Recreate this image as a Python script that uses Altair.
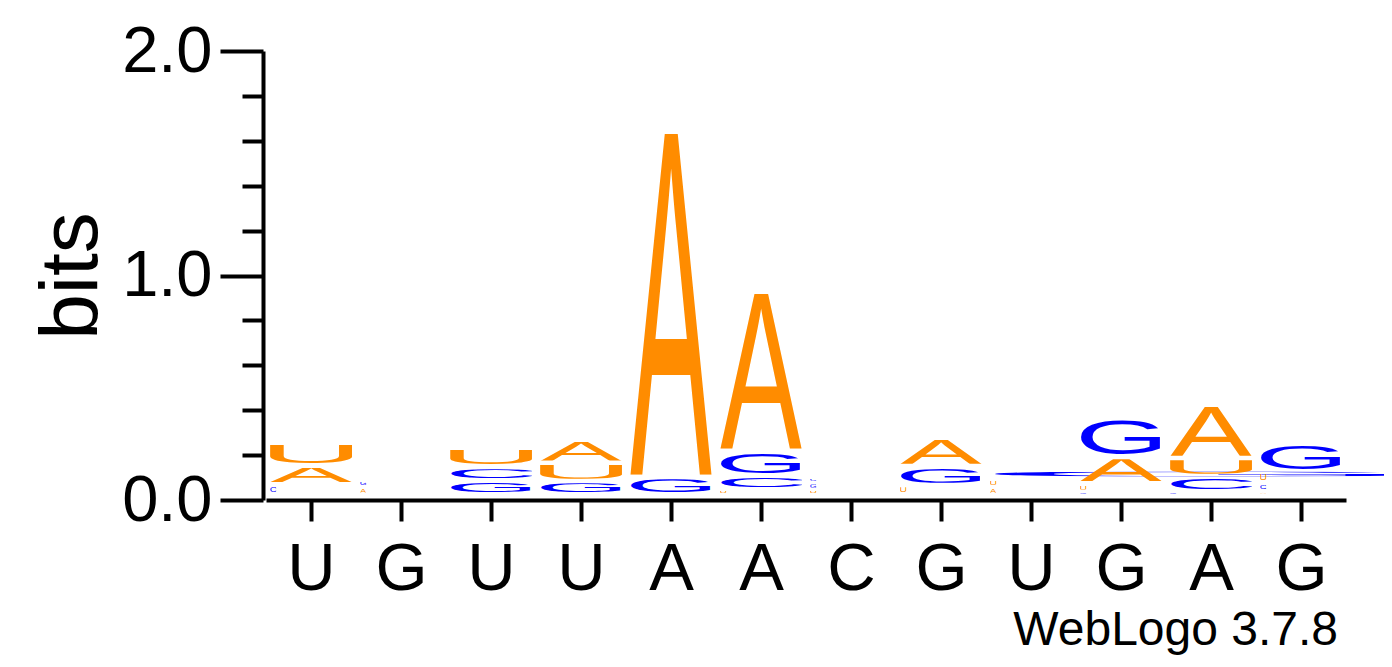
import base64
import pandas as pd
import altair as alt

positions = list(range(1, 13))
consensus = ["U", "G", "U", "U", "A", "A", "C", "G", "U", "G", "A", "G"]

# letters of each stack, from bottom to top, and their heights in bits
stack_letters = [
    ["C", "A", "U"],
    ["A", "G"],
    ["G", "C", "U"],
    ["G", "U", "A"],
    ["G", "A"],
    ["U", "C", "G", "A"],
    ["U", "G", "C"],
    ["U", "G", "A"],
    ["A", "U", "G"],
    ["C", "U", "A", "G"],
    ["G", "C", "U", "A"],
    ["A", "C", "U", "G"],
]
stack_bits = [
    [0.045, 0.085, 0.101],
    [0.034, 0.031],
    [0.063, 0.060, 0.086],
    [0.060, 0.081, 0.104],
    [0.078, 1.539],
    [0.023, 0.060, 0.108, 0.712],
    [0.023, 0.030, 0.022],
    [0.042, 0.085, 0.126],
    [0.033, 0.037, 0.043],
    [0.012, 0.036, 0.119, 0.175],
    [0.015, 0.067, 0.081, 0.237],
    [0.015, 0.037, 0.049, 0.125],
]
# the G at position 9 is drawn smeared out far to the right in the original
smeared = {(9, "G"): 13.2}

letter_colors = {"A": "#ff8c00", "U": "#ff8c00", "C": "#0000ff", "G": "#0000ff"}
# ink box of each glyph at font-size 100 (x, y, w, h), Liberation Sans
glyph_box = {
    "A": (-0.15, -68.8, 67.0, 68.8),
    "C": (4.0, -70.0, 63.2, 71.2),
    "G": (4.2, -70.0, 67.8, 71.2),
    "U": (7.7, -68.8, 56.5, 70.0),
}


def glyph_url(letter):
    x, y, w, h = glyph_box[letter]
    svg = (
        f'<svg xmlns="http://www.w3.org/2000/svg" viewBox="{x} {y} {w} {h}" '
        f'preserveAspectRatio="none" width="{w}" height="{h}">'
        f'<text x="0" y="0" font-family="Liberation Sans, Arial, Helvetica, sans-serif" '
        f'font-size="100" fill="{letter_colors[letter]}">{letter}</text></svg>'
    )
    return "data:image/svg+xml;base64," + base64.b64encode(svg.encode()).decode()


rows = []
for pos, letters, bits in zip(positions, stack_letters, stack_bits):
    base = 0.0
    for letter, h in zip(letters, bits):
        pad = min(0.01, 0.25 * h)
        left = pos - 0.455
        if (pos, letter) in smeared:
            right = smeared[(pos, letter)]
        elif h < 0.05:
            right = left + 0.07
        else:
            right = pos + 0.455
        rows.append(
            dict(pos=pos, letter=letter, x=left, x2=right,
                 lo=base + pad, hi=base + h - pad, url=glyph_url(letter))
        )
        base += h
df = pd.DataFrame(rows)

label_expr = "[" + ",".join(f"'{c}'" for c in consensus) + "][datum.value - 1]"
is_major = "abs(datum.value - round(datum.value)) < 0.001"

chart = (
    alt.Chart(df)
    .mark_image(aspect=False, yOffset=-5.5, y2Offset=-5.5)
    .encode(
        x=alt.X(
            "x:Q",
            scale=alt.Scale(domain=[0.5, 12.5], nice=False, zero=False),
            axis=alt.Axis(
                values=positions, labelExpr=label_expr, title=None, grid=False,
                tickSize=21, tickWidth=4, domainWidth=4, labelFontSize=67,
                labelPadding=15, labelFont="Liberation Sans",
            ),
        ),
        x2="x2:Q",
        y=alt.Y(
            "lo:Q",
            scale=alt.Scale(domain=[0, 2], nice=False),
            axis=alt.Axis(
                values=[round(v * 0.2, 1) for v in range(11)],
                labelExpr=f"{is_major} ? format(datum.value, '.1f') : ''",
                tickSize={"condition": {"test": is_major, "value": 43}, "value": 21},
                title="bits", titleFontSize=82, titleFontWeight="normal",
                titleFont="Liberation Sans", titlePadding=8,
                grid=False, tickWidth=4, domainWidth=4, offset=3,
                labelFontSize=65, labelPadding=8, labelFont="Liberation Sans",
            ),
        ),
        y2="hi:Q",
        url="url:N",
    )
    .properties(
        width=1080,
        height=449,
        autosize=alt.AutoSizeParams(type="none"),
        padding={"left": 258, "top": 43, "right": 38, "bottom": 155},
        title=alt.Title(
            "WebLogo 3.7.8", orient="bottom", anchor="end", frame="group",
            fontSize=48, font="Liberation Sans", fontWeight="normal",
            offset=5, dx=-8,
        ),
    )
    .configure_view(stroke=None)
    .configure_axis(domainColor="black", tickColor="black", labelColor="black",
                    titleColor="black")
)

chart.save("out.html", embed_options={"renderer": "svg", "actions": False})
